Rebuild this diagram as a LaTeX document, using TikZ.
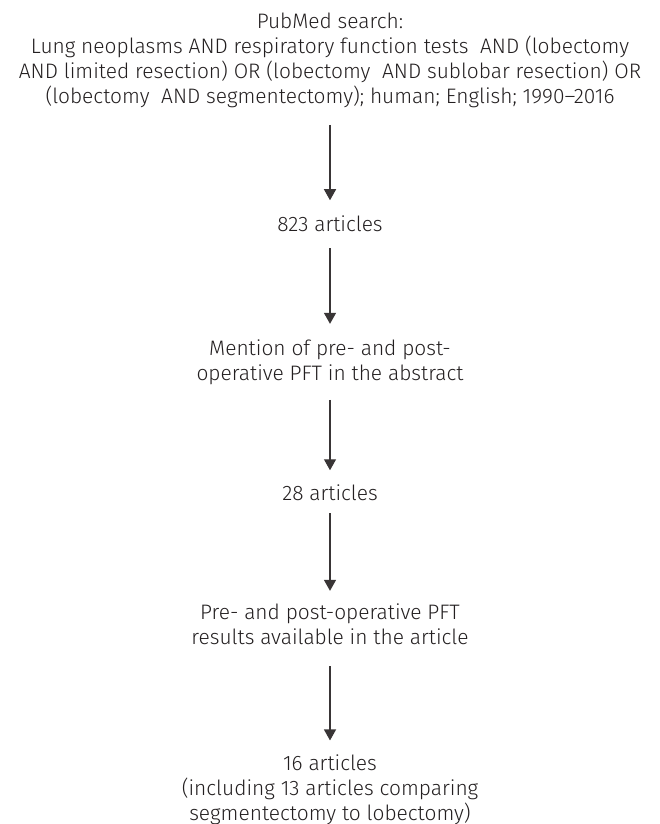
\documentclass[tikz,border=0pt]{standalone}
\usepackage{fontspec}
\setmainfont{Fira Sans Light}
\usetikzlibrary{arrows.meta}
\definecolor{ink}{HTML}{231F20}
\begin{document}
\begin{tikzpicture}[x=1bp,y=1bp,
  txt/.style={inner sep=0pt, outer sep=0pt, align=center, text=ink,
    font=\fontsize{21}{25}\selectfont, anchor=base},
  arr/.style={draw=ink!90, line width=1.3bp, -{Triangle[width=12bp,length=11bp]}}]
\useasboundingbox (0,0) rectangle (660,-824);
\node[txt] (t) at (330,-103) {PubMed search:\\Lung neoplasms AND respiratory function tests\ \ AND (lobectomy\\AND limited resection) OR (lobectomy\ \ AND sublobar resection) OR\\(lobectomy\ \ AND segmentectomy); human; English; 1990--2016};
\node[txt] (a) at (330,-231) {823 articles};
\node[txt] (b) at (330,-380) {Mention of pre- and post-\\operative PFT in the abstract};
\node[txt] (c) at (330,-500) {28 articles};
\node[txt] (d) at (330,-644) {Pre- and post-operative PFT\\results available in the article};
\node[txt] (e) at (330,-820) {16 articles\\(including 13 articles comparing\\segmentectomy to lobectomy)};
\draw[arr, shorten <=17.5bp, shorten >=15bp] (t.south) -- (a.north);
\draw[arr, shorten <=17bp, shorten >=15.5bp] (a.south) -- (b.north);
\draw[arr, shorten <=15.5bp, shorten >=14bp] (b.south) -- (c.north);
\draw[arr, shorten <=13bp, shorten >=12.5bp] (c.south) -- (d.north);
\draw[arr, shorten <=22bp, shorten >=14bp] (d.south) -- (e.north);
\end{tikzpicture}
\end{document}
